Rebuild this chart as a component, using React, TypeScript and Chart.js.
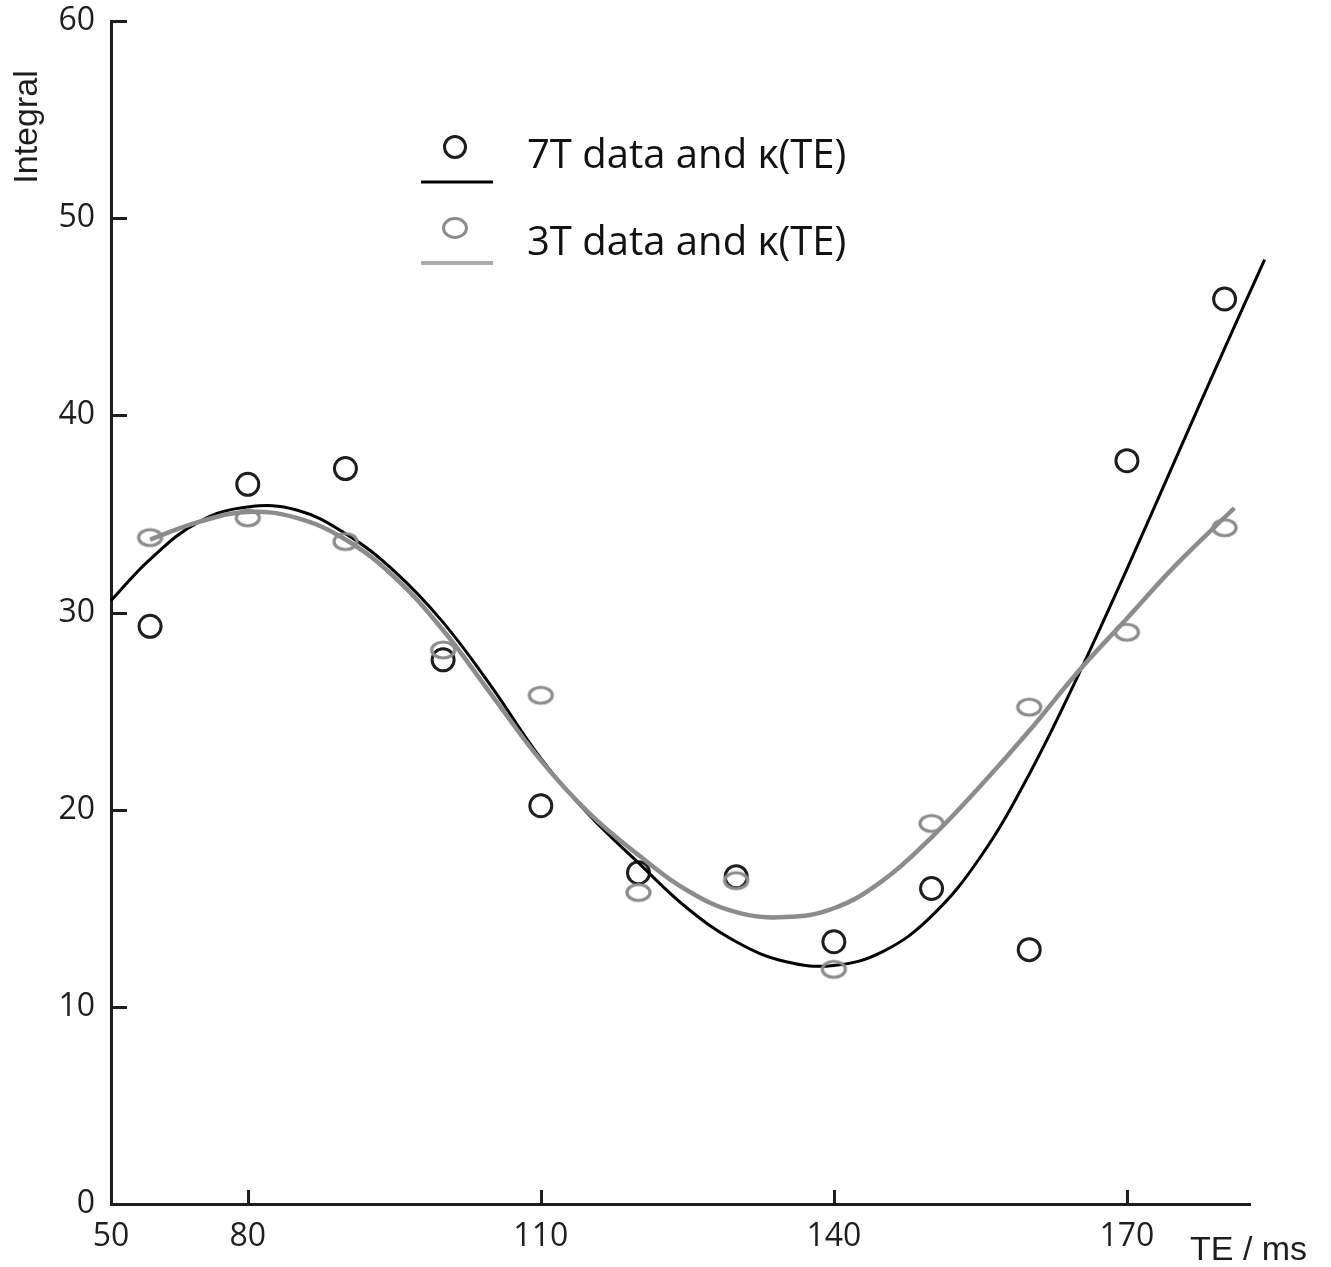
import React, { useEffect, useRef } from "react";
import { Chart, registerables } from "chart.js";

Chart.register(...registerables);

// Measured echo times (ms)
const teValues = [70, 80, 90, 100, 110, 120, 130, 140, 150, 160, 170, 180];
// Integral values, 7T data
const data7T = [29.3, 36.5, 37.3, 27.6, 20.2, 16.8, 16.6, 13.3, 16.0, 12.9, 37.7, 45.9];
// Integral values, 3T data
const data3T = [33.8, 34.8, 33.6, 28.1, 25.8, 15.8, 16.4, 11.9, 19.3, 25.2, 29.0, 34.3];

// Fitted kappa(TE) curves
const fitX7T = [66, 70, 75, 80, 85, 90, 95, 100, 105, 110, 115, 120, 125, 130, 135, 140, 145, 150, 155, 160, 165, 170, 175, 180, 184.1];
const fit7T = [30.6, 32.7, 34.6, 35.35, 35.2, 34.0, 32.1, 29.5, 26.2, 22.6, 19.7, 17.3, 15.0, 13.3, 12.3, 12.1, 12.8, 14.6, 17.6, 21.8, 26.8, 32.2, 37.8, 43.4, 47.9];
const fitX3T = [70, 75, 80, 85, 90, 95, 100, 105, 110, 115, 120, 125, 130, 135, 140, 145, 150, 155, 160, 165, 170, 175, 181];
const fit3T = [33.7, 34.6, 35.1, 34.8, 33.7, 31.8, 29.1, 25.8, 22.5, 19.8, 17.7, 15.9, 14.8, 14.55, 15.0, 16.4, 18.6, 21.2, 24.0, 27.0, 29.7, 32.4, 35.3];

// Axis ticks
const xMin = 66;
const xMax = 182.6;
const xTickValues = [66, 80, 110, 140, 170];
const xTickLabels = ["50", "80", "110", "140", "170"];
const yMin = 0;
const yMax = 60;
const yStep = 10;

const legendLabels = ["7T data and \u03ba(TE)", "3T data and \u03ba(TE)"];
const xTitle = "TE / ms";
const yTitle = "Integral";

const DARK = "#1e1e1e";
const GRAY = "#8c8c8c";

function makeEllipse(rx: number, ry: number, color: string, lw: number) {
  const c = document.createElement("canvas");
  c.width = Math.ceil(rx * 2 + lw + 4);
  c.height = Math.ceil(ry * 2 + lw + 4);
  const ctx = c.getContext("2d")!;
  ctx.strokeStyle = color;
  ctx.lineWidth = lw;
  ctx.beginPath();
  ctx.ellipse(c.width / 2, c.height / 2, rx, ry, 0, 0, Math.PI * 2);
  ctx.stroke();
  return c;
}

export default function App() {
  const ref = useRef<HTMLCanvasElement | null>(null);

  useEffect(() => {
    if (!ref.current) return;
    const grayEllipse = makeEllipse(11.5, 8, GRAY, 3.2);

    const decorations = {
      id: "decorations",
      afterDraw(chart: any) {
        const ctx = chart.ctx as CanvasRenderingContext2D;
        const xs = chart.scales.x;
        const ys = chart.scales.y;
        const area = chart.chartArea;
        ctx.save();
        // inward ticks
        ctx.strokeStyle = DARK;
        ctx.lineWidth = 3;
        ys.ticks.forEach((t: any) => {
          if (t.value === yMin) return;
          const y = Math.round(ys.getPixelForValue(t.value)) + 0.5;
          ctx.beginPath();
          ctx.moveTo(area.left, y);
          ctx.lineTo(area.left + 16, y);
          ctx.stroke();
        });
        xs.ticks.forEach((t: any) => {
          if (t.value === xMin) return;
          const x = Math.round(xs.getPixelForValue(t.value)) + 0.5;
          ctx.beginPath();
          ctx.moveTo(x, area.bottom);
          ctx.lineTo(x, area.bottom - 14);
          ctx.stroke();
        });
        // axis titles
        ctx.fillStyle = DARK;
        ctx.font = '34px "Liberation Sans", Arial, sans-serif';
        ctx.textAlign = "left";
        ctx.textBaseline = "alphabetic";
        ctx.fillText(xTitle, 1190, 1260);
        ctx.save();
        ctx.translate(37, 127);
        ctx.rotate(-Math.PI / 2);
        ctx.textAlign = "center";
        ctx.fillText(yTitle, 0, 0);
        ctx.restore();
        // legend
        const lx1 = 421, lx2 = 493, lcx = 455;
        ctx.strokeStyle = DARK;
        ctx.lineWidth = 3;
        ctx.beginPath();
        ctx.arc(lcx, 147, 10.5, 0, Math.PI * 2);
        ctx.stroke();
        ctx.strokeStyle = "#000";
        ctx.lineWidth = 3;
        ctx.beginPath();
        ctx.moveTo(lx1, 182);
        ctx.lineTo(lx2, 182);
        ctx.stroke();
        ctx.strokeStyle = GRAY;
        ctx.lineWidth = 3;
        ctx.beginPath();
        ctx.ellipse(lcx, 228, 11.5, 9.5, 0, 0, Math.PI * 2);
        ctx.stroke();
        ctx.strokeStyle = "#ababab";
        ctx.lineWidth = 4;
        ctx.beginPath();
        ctx.moveTo(lx1, 263);
        ctx.lineTo(lx2, 263);
        ctx.stroke();
        ctx.fillStyle = "#111";
        ctx.font = '40px "Open Sans", sans-serif';
        ctx.textAlign = "left";
        ctx.fillText(legendLabels[0], 527, 168);
        ctx.fillText(legendLabels[1], 527, 255);
        ctx.restore();
      },
    };

    const chart = new Chart(ref.current, {
      type: "scatter",
      data: {
        datasets: [
          {
            label: "3T data",
            data: teValues.map((x, i) => ({ x, y: data3T[i] })),
            pointStyle: grayEllipse as any,
            pointRadius: 11,
            showLine: false,
          },
          {
            label: "3T fit",
            data: fitX3T.map((x, i) => ({ x, y: fit3T[i] })),
            showLine: true,
            borderColor: GRAY,
            borderWidth: 4.5,
            pointRadius: 0,
            tension: 0.4,
            clip: false as any,
          },
          {
            label: "7T fit",
            data: fitX7T.map((x, i) => ({ x, y: fit7T[i] })),
            showLine: true,
            borderColor: "#000",
            borderWidth: 3,
            pointRadius: 0,
            tension: 0.4,
            clip: false as any,
          },
          {
            label: "7T data",
            data: teValues.map((x, i) => ({ x, y: data7T[i] })),
            pointStyle: "circle",
            pointRadius: 11,
            borderColor: DARK,
            borderWidth: 3,
            backgroundColor: "rgba(0,0,0,0)",
            showLine: false,
          },
        ],
      },
      options: {
        animation: false,
        responsive: true,
        maintainAspectRatio: false,
        layout: { padding: { left: 0, top: 21, right: 81, bottom: 0 } },
        plugins: { legend: { display: false }, tooltip: { enabled: false } },
        scales: {
          x: {
            type: "linear",
            min: xMin,
            max: xMax,
            afterBuildTicks: (scale: any) => {
              scale.ticks = xTickValues.map((v) => ({ value: v }));
            },
            afterFit: (scale: any) => {
              scale.height = 63;
              scale.paddingLeft = 0;
              scale.paddingRight = 0;
            },
            grid: { display: false, drawTicks: false },
            border: { display: true, color: DARK, width: 3 },
            ticks: {
              autoSkip: false,
              maxRotation: 0,
              padding: 14,
              color: DARK,
              font: { family: '"Open Sans", sans-serif', size: 32 },
              callback: (_v: any, i: number) => xTickLabels[i],
            },
          },
          y: {
            type: "linear",
            min: yMin,
            max: yMax,
            afterFit: (scale: any) => {
              scale.width = 111;
              scale.paddingTop = 0;
              scale.paddingBottom = 0;
            },
            grid: { display: false, drawTicks: false },
            border: { display: true, color: DARK, width: 3 },
            ticks: {
              stepSize: yStep,
              padding: 16,
              color: DARK,
              font: { family: '"Open Sans", sans-serif', size: 32 },
            },
          },
        },
      },
      plugins: [decorations],
    });
    return () => chart.destroy();
  }, []);

  return (
    <div style={{ position: "fixed", left: 0, top: 0, width: 1331, height: 1267, background: "#fff" }}>
      <canvas ref={ref} />
    </div>
  );
}
